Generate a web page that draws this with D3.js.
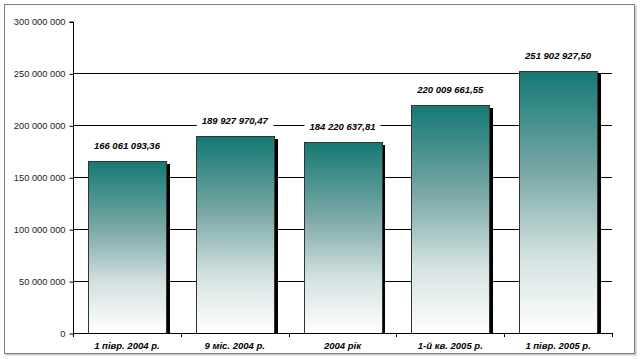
<!DOCTYPE html>
<html><head><meta charset="utf-8">
<script src="https://cdn.jsdelivr.net/npm/d3@7"></script>
<style>html,body{margin:0;padding:0;background:#fff;}</style>
</head><body>
<script>
const categories = ["1 півр. 2004 р.", "9 міс. 2004 р.", "2004 рік", "1-й кв. 2005 р.", "1 півр. 2005 р."];
const values = [166061093.36, 189927970.47, 184220637.81, 220009661.55, 251902927.50];
const valueLabels = ["166 061 093,36", "189 927 970,47", "184 220 637,81", "220 009 661,55", "251 902 927,50"];
const yTicks = [0, 50000000, 100000000, 150000000, 200000000, 250000000, 300000000];

const W = 640, H = 359;
const svg = d3.select("body").append("svg").attr("width", W).attr("height", H);
const font = "'Liberation Sans', Arial, sans-serif";

// outer frame with shadow
svg.append("rect").attr("x", 5.5).attr("y", 5.5).attr("width", 631).attr("height", 350).attr("fill", "#c8c8c8");
svg.append("rect").attr("x", 4.5).attr("y", 4.5).attr("width", 630).attr("height", 349)
  .attr("fill", "#fff").attr("stroke", "#808080").attr("stroke-width", 1);

const x = d3.scaleBand().domain(categories).range([73, 612]).paddingInner(0.28).paddingOuter(0.14);
const xb = d3.scaleBand().domain(categories).range([73, 612]);
const y = d3.scaleLinear().domain([0, 300000000]).range([333, 21.5]);

const defs = svg.append("defs");
const grad = defs.append("linearGradient").attr("id", "g").attr("x1", 0).attr("y1", 0).attr("x2", 0).attr("y2", 1);
[["0%", "#147974"], ["40%", "#7daaa8"], ["70%", "#d2e1e0"], ["100%", "#ffffff"]].forEach(s =>
  grad.append("stop").attr("offset", s[0]).attr("stop-color", s[1]));

// gridlines (no line at top)
svg.append("g").selectAll("line").data(yTicks.filter(d => d > 0 && d < 300000000)).join("line")
  .attr("x1", 73).attr("x2", 612)
  .attr("y1", d => Math.round(y(d)) + 0.5).attr("y2", d => Math.round(y(d)) + 0.5)
  .attr("stroke", "#000").attr("stroke-width", 1);

// shadows
svg.append("g").selectAll("rect").data(values).join("rect")
  .attr("x", (d, i) => Math.round(x(categories[i]) + x.bandwidth()))
  .attr("y", d => Math.round(y(d)) + 3)
  .attr("width", 4)
  .attr("height", d => 333 - Math.round(y(d)) - 3)
  .attr("fill", "#000");

// bars
svg.append("g").selectAll("rect").data(values).join("rect")
  .attr("x", (d, i) => Math.round(x(categories[i])) + 0.5)
  .attr("y", d => Math.round(y(d)) + 0.5)
  .attr("width", Math.round(x.bandwidth()))
  .attr("height", d => 333 - Math.round(y(d)))
  .attr("fill", "url(#g)")
  .attr("stroke", "#333").attr("stroke-width", 1);

// y axis
const yAxis = d3.axisLeft(y).tickValues(yTicks).tickSize(4).tickPadding(4)
  .tickFormat(d => d3.format(",")(d).replace(/,/g, " "));
const ga = svg.append("g").attr("transform", "translate(73.5,0.5)").call(yAxis);
ga.select(".domain").attr("stroke", "#000").attr("d", "M-4,21.5H0V333");
ga.selectAll(".tick line").attr("stroke", "#000");
ga.selectAll("text").attr("font-family", font).attr("font-size", "9.3px").attr("fill", "#222");

// x axis
svg.append("line").attr("x1", 73).attr("x2", 612).attr("y1", 333.5).attr("y2", 333.5).attr("stroke", "#000");
svg.append("g").selectAll("line").data(categories.concat(["end"])).join("line")
  .attr("x1", (d, i) => Math.round(73 + i * xb.bandwidth()) + 0.5)
  .attr("x2", (d, i) => Math.round(73 + i * xb.bandwidth()) + 0.5)
  .attr("y1", 333).attr("y2", 337).attr("stroke", "#000");

svg.append("g").selectAll("text").data(categories).join("text")
  .attr("x", d => xb(d) + xb.bandwidth() / 2)
  .attr("y", 349)
  .attr("text-anchor", "middle")
  .attr("font-family", font).attr("font-size", "9.5px").attr("font-weight", "bold").attr("font-style", "italic")
  .attr("fill", "#000")
  .text(d => d);

// value labels with white background
const lg = svg.append("g").selectAll("g").data(values).join("g")
  .attr("transform", (d, i) => `translate(${xb(categories[i]) + xb.bandwidth() / 2},${y(d) - 12})`);
const lt = lg.append("text")
  .attr("text-anchor", "middle")
  .attr("font-family", font).attr("font-size", "9.5px").attr("font-weight", "bold").attr("font-style", "italic")
  .attr("fill", "#000")
  .text((d, i) => valueLabels[i]);
lg.each(function() {
  const t = d3.select(this).select("text");
  const bb = t.node().getBBox();
  d3.select(this).insert("rect", "text")
    .attr("x", bb.x - 5).attr("y", bb.y - 1).attr("width", bb.width + 10).attr("height", bb.height + 2)
    .attr("fill", "#fff");
});
</script>
</body></html>
